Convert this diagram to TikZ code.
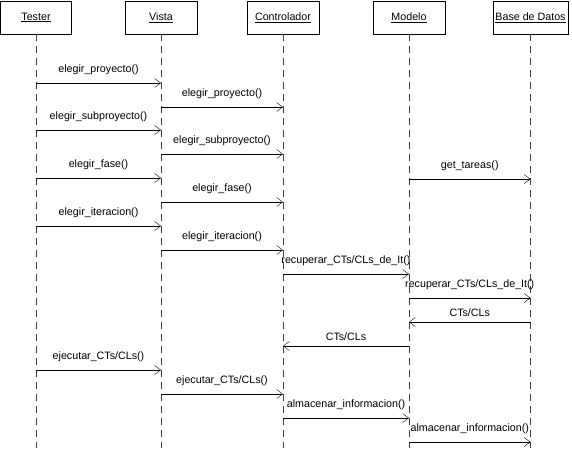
\documentclass[tikz,border=0pt]{standalone}
\usepackage{fontspec}
\setmainfont{Liberation Sans}
\usetikzlibrary{arrows.meta,positioning}

\begin{document}
\begin{tikzpicture}[
  x=1pt, y=-1pt,
  font=\fontsize{10.7}{12}\selectfont,
  obj/.style={draw, minimum width=72pt, minimum height=33pt, inner sep=2pt, outer sep=0pt},
  life/.style={draw=black!75, dash pattern=on 7pt off 5pt},
  arr/.style={-{Straight Barb[length=6pt, width=9pt]}},
  msg/.style={midway, anchor=base, yshift=11pt, inner sep=0pt},
  ret/.style={midway, anchor=base, yshift=5.5pt, inner sep=0pt}
]
\useasboundingbox (0,0) rectangle (572,448);

% objetos
\node[obj, minimum width=71pt] (tester) at (36,17.5) {\underline{Tester}};
\node[obj, right=53.5pt of tester] (vista) {\underline{Vista}};
\node[obj, right=50pt of vista] (ctrl) {\underline{Controlador}};
\node[obj, right=54pt of ctrl] (modelo) {\underline{Modelo}};
\node[obj, minimum width=75pt, right=48pt of modelo] (bd) {\underline{Base de Datos}};

% lineas de vida
\draw[life] (tester.south) -- (tester |- 0,448);
\draw[life] (vista.south) -- (vista |- 0,448);
\draw[life] (ctrl.south) -- (ctrl |- 0,448);
\draw[life] (modelo.south) -- (modelo |- 0,448);
\draw[life] (bd.south) -- (bd |- 0,448);

% mensajes
\draw[arr] (tester |- 0,83) -- node[msg] {elegir\_proyecto()} (vista |- 0,83);
\draw[arr] (vista |- 0,107) -- node[msg] {elegir\_proyecto()} (ctrl |- 0,107);
\draw[arr] (tester |- 0,130) -- node[msg] {elegir\_subproyecto()} (vista |- 0,130);
\draw[arr] (vista |- 0,154) -- node[msg] {elegir\_subproyecto()} (ctrl |- 0,154);
\draw[arr] (tester |- 0,178) -- node[msg] {elegir\_fase()} (vista |- 0,178);
\draw[arr] (modelo |- 0,179) -- node[msg] {get\_tareas()} (bd |- 0,179);
\draw[arr] (vista |- 0,202) -- node[msg] {elegir\_fase()} (ctrl |- 0,202);
\draw[arr] (tester |- 0,226) -- node[msg] {elegir\_iteracion()} (vista |- 0,226);
\draw[arr] (vista |- 0,250) -- node[msg] {elegir\_iteracion()} (ctrl |- 0,250);
\draw[arr] (ctrl |- 0,274) -- node[msg] {recuperar\_CTs/CLs\_de\_It()} (modelo |- 0,274);
\draw[arr] (modelo |- 0,298) -- node[msg] {recuperar\_CTs/CLs\_de\_It()} (bd |- 0,298);
\draw[arr] (bd |- 0,322) -- node[ret] {CTs/CLs} (modelo |- 0,322);
\draw[arr] (modelo |- 0,346) -- node[ret] {CTs/CLs} (ctrl |- 0,346);
\draw[arr] (tester |- 0,370) -- node[msg] {ejecutar\_CTs/CLs()} (vista |- 0,370);
\draw[arr] (vista |- 0,394) -- node[msg] {ejecutar\_CTs/CLs()} (ctrl |- 0,394);
\draw[arr] (ctrl |- 0,418) -- node[msg] {almacenar\_informacion()} (modelo |- 0,418);
\draw[arr] (modelo |- 0,442) -- node[msg] {almacenar\_informacion()} (bd |- 0,442);
\end{tikzpicture}
\end{document}
